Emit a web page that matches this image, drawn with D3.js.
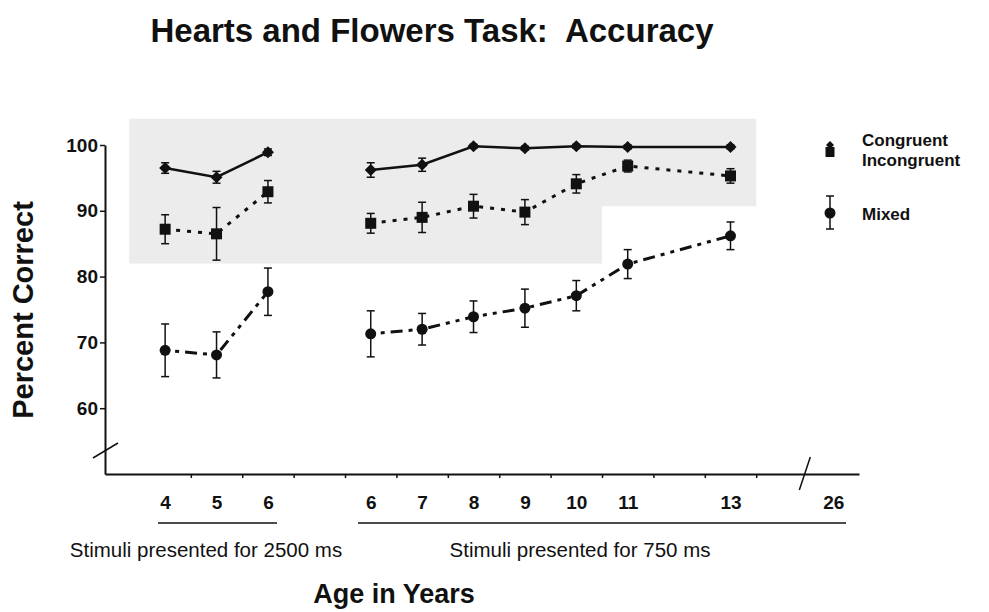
<!DOCTYPE html>
<html><head><meta charset="utf-8">
<script src="https://cdn.jsdelivr.net/npm/d3@7"></script>
<style>
body{margin:0;background:#fff;}
text{font-family:"Liberation Sans",Arial,sans-serif;}
</style></head>
<body><svg id="c" width="989" height="612"></svg>
<script>
// ---- data ----
const tickLabels = ["4","5","6","","6","7","8","9","10","11","","13","","26"];
const groups = [[0,1,2],[4,5,6,7,8,9,11]];
const congruent    = [96.5,95.1,98.9,null,96.2,97.0,99.8,99.5,99.8,99.7,null,99.7,null,null];
const congruentErr = [0.8,0.9,0.5,null,1.1,1.0,0.3,0.3,0.3,0.3,null,0.3,null,null];
const incongruent    = [87.2,86.5,92.9,null,88.1,89.0,90.7,89.8,94.1,96.8,null,95.3,null,null];
const incongruentErr = [2.2,4.0,1.7,null,1.5,2.3,1.8,1.9,1.4,0.9,null,1.1,null,null];
const mixed    = [68.8,68.1,77.7,null,71.3,72.0,73.9,75.2,77.1,81.9,null,86.2,null,null];
const mixedErr = [4.0,3.5,3.6,null,3.5,2.4,2.4,2.9,2.3,2.2,null,2.1,null,null];
const yTicks = [60,70,80,90,100];

const svg = d3.select("#c");
const x = d3.scaleLinear().domain([-1.17,13.5]).range([105,859]);
const y = d3.scaleLinear().domain([50,100]).range([474,145]);
const FF = "Liberation Sans, Arial, sans-serif";

// shaded region
svg.append("path")
  .attr("d", `M${x(-0.7)},${y(104)} L${x(11.5)},${y(104)} L${x(11.5)},${y(90.7)} L${x(8.5)},${y(90.7)} L${x(8.5)},${y(82)} L${x(-0.7)},${y(82)} Z`)
  .attr("fill","#ececec");

// title
svg.append("text").attr("x",432).attr("y",42).attr("text-anchor","middle")
  .attr("font-size",33).attr("font-weight","bold").attr("fill","#111")
  .text("Hearts and Flowers Task:\u00a0 Accuracy");

// y axis
const yAxis = svg.append("g").attr("transform","translate(105,0)")
  .call(d3.axisLeft(y).tickValues(yTicks).tickSize(5).tickSizeOuter(0).tickPadding(2));
yAxis.select(".domain").attr("stroke","#111").attr("stroke-width",2);
yAxis.selectAll(".tick line").attr("stroke","#111").attr("stroke-width",1.5);
yAxis.selectAll(".tick text").attr("font-size",19).attr("font-weight","bold").attr("fill","#111")
  .attr("font-family",FF);
svg.append("text").attr("transform","translate(33,310) rotate(-90)").attr("text-anchor","middle")
  .attr("font-size",29).attr("font-weight","bold").attr("fill","#111").text("Percent Correct");

// x axis
const xAxis = svg.append("g").attr("transform","translate(0,474)")
  .call(d3.axisBottom(x).tickValues(d3.range(0.5,12,1)).tickSize(4).tickSizeOuter(0).tickFormat(""));
xAxis.select(".domain").attr("stroke","#111").attr("stroke-width",2);
xAxis.selectAll(".tick line").attr("stroke","#111").attr("stroke-width",1.5);
const xLab = svg.append("g").attr("transform","translate(0,474)")
  .call(d3.axisBottom(x).tickValues(d3.range(0,14).filter(i=>tickLabels[i]!=="")).tickSize(0).tickPadding(22)
  .tickFormat(i=>tickLabels[i]));
xLab.select(".domain").remove();
xLab.selectAll(".tick text").attr("font-size",19).attr("font-weight","bold").attr("fill","#111")
  .attr("font-family",FF);

// axis breaks
svg.append("line").attr("x1",93).attr("y1",458).attr("x2",118).attr("y2",443).attr("stroke","#111").attr("stroke-width",1.5);
svg.append("line").attr("x1",x(12.3)+2).attr("y1",490).attr("x2",x(12.3)+13).attr("y2",457).attr("stroke","#111").attr("stroke-width",1.5);

// group underlines and captions
svg.append("line").attr("x1",158).attr("x2",277).attr("y1",523).attr("y2",523).attr("stroke","#111").attr("stroke-width",1.5);
svg.append("line").attr("x1",358).attr("x2",846).attr("y1",523).attr("y2",523).attr("stroke","#111").attr("stroke-width",1.5);
svg.append("text").attr("x",206).attr("y",557).attr("text-anchor","middle").attr("font-size",20.5).attr("fill","#111")
  .text("Stimuli presented for 2500 ms");
svg.append("text").attr("x",580).attr("y",557).attr("text-anchor","middle").attr("font-size",20.5).attr("fill","#111")
  .text("Stimuli presented for 750 ms");
svg.append("text").attr("x",394).attr("y",603).attr("text-anchor","middle").attr("font-size",27).attr("font-weight","bold").attr("fill","#111")
  .text("Age in Years");

// series
const series = [
  {vals:congruent, err:congruentErr, dash:null, shape:"diamond"},
  {vals:incongruent, err:incongruentErr, dash:"4,7", shape:"square"},
  {vals:mixed, err:mixedErr, dash:"4,6,4,6,12,6", shape:"circle"}
];
series.forEach(s=>{
  groups.forEach(g=>{
    svg.append("path").datum(g)
      .attr("d", d3.line().x(i=>x(i)).y(i=>y(s.vals[i]))(g))
      .attr("fill","none").attr("stroke","#111").attr("stroke-width",s.shape==="diamond"?2.5:3)
      .attr("stroke-dasharray",s.dash);
  });
  const idx = d3.range(14).filter(i=>s.vals[i]!==null);
  idx.forEach(i=>{
    const cx = x(i), v = s.vals[i], e = s.err[i];
    const gE = svg.append("g").attr("stroke","#111").attr("stroke-width",1.5);
    gE.append("line").attr("x1",cx).attr("x2",cx).attr("y1",y(v+e)).attr("y2",y(v-e));
    gE.append("line").attr("x1",cx-4).attr("x2",cx+4).attr("y1",y(v+e)).attr("y2",y(v+e));
    gE.append("line").attr("x1",cx-4).attr("x2",cx+4).attr("y1",y(v-e)).attr("y2",y(v-e));
    const cy = y(v);
    if(s.shape==="diamond"){
      svg.append("path").attr("d",`M${cx},${cy-6} L${cx+6},${cy} L${cx},${cy+6} L${cx-6},${cy} Z`).attr("fill","#111");
    } else if(s.shape==="square"){
      svg.append("rect").attr("x",cx-5.5).attr("y",cy-5.5).attr("width",11).attr("height",11).attr("fill","#111");
    } else {
      svg.append("circle").attr("cx",cx).attr("cy",cy).attr("r",5.5).attr("fill","#111");
    }
  });
});

// legend
const lx = 830;
svg.append("path").attr("d",`M${lx},${141} L${lx+4},${145} L${lx},${149} L${lx-4},${145} Z`).attr("fill","#111");
svg.append("rect").attr("x",lx-4.5).attr("y",147).attr("width",9).attr("height",10).attr("fill","#111");
svg.append("text").attr("x",862).attr("y",146).attr("font-size",17).attr("font-weight","bold").attr("fill","#111").text("Congruent");
svg.append("text").attr("x",862).attr("y",166).attr("font-size",17).attr("font-weight","bold").attr("fill","#111").text("Incongruent");
const lg = svg.append("g").attr("stroke","#111").attr("stroke-width",1.5);
lg.append("line").attr("x1",lx).attr("x2",lx).attr("y1",196).attr("y2",229);
lg.append("line").attr("x1",lx-4).attr("x2",lx+4).attr("y1",196).attr("y2",196);
lg.append("line").attr("x1",lx-4).attr("x2",lx+4).attr("y1",229).attr("y2",229);
svg.append("circle").attr("cx",lx).attr("cy",213).attr("r",5.5).attr("fill","#111");
svg.append("text").attr("x",862).attr("y",220).attr("font-size",17).attr("font-weight","bold").attr("fill","#111").text("Mixed");
</script></body></html>
